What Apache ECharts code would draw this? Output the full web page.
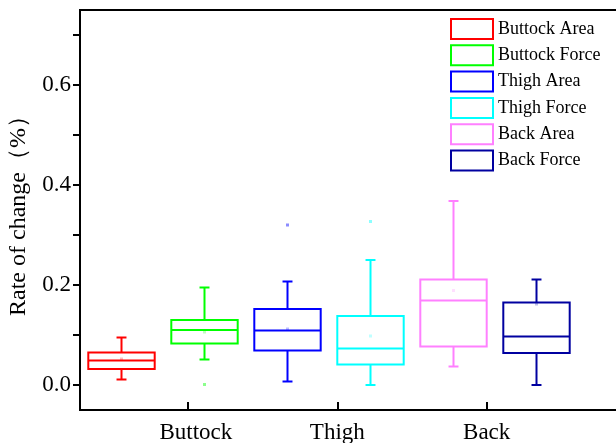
<!DOCTYPE html>
<html><head><meta charset="utf-8">
<script src="https://cdn.jsdelivr.net/npm/echarts@6/dist/echarts.min.js"></script>
<style>html,body{margin:0;padding:0;background:#fff}#c{width:616px;height:443px}</style>
</head><body><div id="c"></div>
<script>
// ---- data ----
const seriesNames = ['Buttock Area','Buttock Force','Thigh Area','Thigh Force','Back Area','Back Force'];
const boxPositions = [1,2,3,4,5,6];
const whiskerLow  = [0.011,0.051,0.007,0.000,0.037,0.000];
const quartile1   = [0.032,0.083,0.069,0.041,0.077,0.064];
const medians     = [0.049,0.110,0.109,0.073,0.169,0.097];
const quartile3   = [0.065,0.130,0.152,0.138,0.211,0.165];
const whiskerHigh = [0.095,0.195,0.207,0.250,0.368,0.211];
const means       = [0.052,0.106,0.112,0.098,0.189,0.162];
const outliers    = [[],[0.001],[0.320],[0.327],[],[]];
const categoryNames = ['Buttock','Thigh','Back'];
const categoryTicks = [1.8,3.6,5.4];
const yLabelTicks = [0,0.2,0.4,0.6];
const yAllTicks = [0,0.1,0.2,0.3,0.4,0.5,0.6,0.7];
const colors = ['#FF0000','#00FF00','#0000FF','#00FFFF','#FF80FF','#0000A0'];

// ---- styles ----
const FONT = "'Liberation Serif','Times New Roman',serif";
const BOX_W = 0.8;   // in x-axis units
const CAP_W = 0.12;

function renderBox(params, api) {
  const x = api.value(0);
  const lo = api.coord([x, api.value(1)]);
  const q1 = api.coord([x, api.value(2)]);
  const md = api.coord([x, api.value(3)]);
  const q3 = api.coord([x, api.value(4)]);
  const hi = api.coord([x, api.value(5)]);
  const mn = api.coord([x, api.value(6)]);
  const w = api.size([BOX_W, 0])[0];
  const c = api.size([CAP_W, 0])[0];
  const color = api.visual('color');
  const st = {stroke: color, fill: null, lineWidth: 2};
  return {type: 'group', children: [
    {type: 'line', shape: {x1: hi[0], y1: hi[1], x2: q3[0], y2: q3[1]}, style: st},
    {type: 'line', shape: {x1: lo[0], y1: lo[1], x2: q1[0], y2: q1[1]}, style: st},
    {type: 'line', shape: {x1: hi[0]-c/2, y1: hi[1], x2: hi[0]+c/2, y2: hi[1]}, style: st},
    {type: 'line', shape: {x1: lo[0]-c/2, y1: lo[1], x2: lo[0]+c/2, y2: lo[1]}, style: st},
    {type: 'rect', shape: {x: q3[0]-w/2, y: q3[1], width: w, height: q1[1]-q3[1]}, style: {stroke: color, fill: '#fff', lineWidth: 2}},
    {type: 'line', shape: {x1: md[0]-w/2, y1: md[1], x2: md[0]+w/2, y2: md[1]}, style: st},
    {type: 'rect', shape: {x: mn[0]-1.5, y: mn[1]-1.5, width: 3, height: 3}, style: {fill: color, opacity: 0.25}}
  ]};
}

const series = [];
seriesNames.forEach((name, i) => {
  series.push({
    type: 'custom', name: name, renderItem: renderBox,
    itemStyle: {color: colors[i]},
    encode: {x: 0, y: [1,2,3,4,5]},
    data: [[boxPositions[i], whiskerLow[i], quartile1[i], medians[i], quartile3[i], whiskerHigh[i], means[i]]],
    z: 3
  });
  series.push({
    type: 'scatter', name: name, symbol: 'rect', symbolSize: 3,
    itemStyle: {color: colors[i], opacity: 0.45},
    data: outliers[i].map(v => [boxPositions[i], v]),
    z: 3
  });
});

const chart = echarts.init(document.getElementById('c'), null, {renderer: 'canvas'});
chart.setOption({
  animation: false,
  backgroundColor: '#fff',
  textStyle: {fontFamily: FONT},
  grid: {left: 80, top: 10, width: 581, height: 400, outerBoundsMode: 'none', containLabel: false,
    show: true, borderColor: '#000', borderWidth: 2, backgroundColor: 'transparent'},
  legend: {
    orient: 'vertical', left: 450, top: 18, padding: 0,
    itemWidth: 42, itemHeight: 20, itemGap: 4.3,
    textStyle: {fontFamily: FONT, fontSize: 18, color: '#000'},
    data: seriesNames.map((n, i) => ({name: n, icon: 'rect', itemStyle: {color: '#fff', borderColor: colors[i], borderWidth: 2}}))
  },
  xAxis: {
    type: 'value', min: 0.5, max: 7.5,
    axisLine: {show: true, onZero: false, lineStyle: {color: '#000', width: 2}},
    splitLine: {show: false},
    axisTick: {show: true, customValues: categoryTicks, inside: true, length: 8, lineStyle: {color: '#000', width: 2}},
    axisLabel: {customValues: categoryTicks, margin: 11, fontSize: 23, color: '#000', fontFamily: FONT,
      rich: {first: {fontSize: 23, fontFamily: FONT, color: '#000', padding: [0, 0, 0, 16]}},
      formatter: v => {
        const k = categoryTicks.findIndex(t => Math.abs(t - v) < 1e-6);
        if (k < 0) return '';
        return k === 0 ? '{first|' + categoryNames[k] + '}' : categoryNames[k];
      }}
  },
  yAxis: {
    type: 'value', min: -0.05, max: 0.75,
    name: 'Rate of change（%）', nameLocation: 'middle', nameGap: 49,
    nameTextStyle: {fontFamily: FONT, fontSize: 24, color: '#000'},
    axisLine: {show: true, onZero: false, lineStyle: {color: '#000', width: 2}},
    splitLine: {show: false},
    axisTick: {show: true, customValues: yAllTicks, inside: false, length: 7, lineStyle: {color: '#000', width: 2}},
    axisLabel: {customValues: yLabelTicks, margin: 9, fontSize: 23, color: '#000', fontFamily: FONT,
      formatter: v => v.toFixed(1)}
  },
  series: series
});
</script></body></html>
